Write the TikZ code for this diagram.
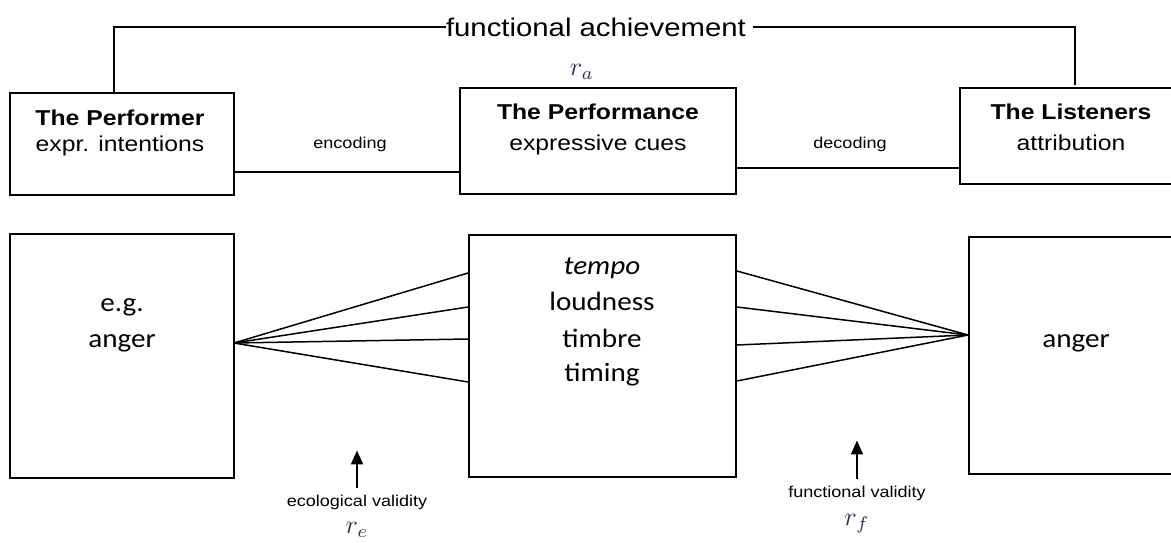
\documentclass[tikz,border=0pt]{standalone}
\usepackage{fontspec}
\usepackage{graphicx}
\usetikzlibrary{positioning,arrows.meta}
\newfontfamily\labelfont{Liberation Sans}[FakeStretch=1.15]
\newfontfamily\cuefont{Carlito}[FakeStretch=1.1]
\definecolor{coefnavy}{HTML}{26334F}

\tikzset{
  box/.style={draw, line width=1.8pt, inner sep=0pt},
  link/.style={line width=1.5pt},
  head/.style={font=\labelfont\fontsize{21.5}{24}\selectfont, inner sep=0pt, anchor=base},
  tag/.style={font=\labelfont\fontsize{15.7}{17}\selectfont, inner sep=0pt},
  cue/.style={font=\cuefont\fontsize{26.5}{30}\selectfont, inner sep=0pt, anchor=base},
  coef/.style={text=coefnavy, inner sep=0pt},
  validity/.style={line width=1.8pt, -{Triangle[length=14pt, width=12pt]}}
}
\newcommand{\coefsym}[1]{\scalebox{2.6}{$r_{#1}$}}

\begin{document}
\begin{tikzpicture}[x=1pt, y=-1pt]
	\useasboundingbox (0,0) rectangle (1171,543);

	\node[box, minimum width=224pt, minimum height=102pt] (performer) at (122,144) {};
	\node[box, minimum width=276pt, minimum height=106pt] (performance) at (598,141) {};
	\node[box, minimum width=222pt, minimum height=96pt] (listeners) at (1071,136) {};

	\node[head] (performer-h) at (120,125) {\bfseries The Performer};
	\node[head] (performer-s) at (120,151) {expr. intentions};
	\node[head] (performance-h) at (598,120) {\bfseries The Performance};
	\node[head] (performance-s) at (598,150) {expressive cues};
	\node[head] (listeners-h) at (1071,120) {\bfseries The Listeners};
	\node[head] (listeners-s) at (1071,150) {attribution};

	\node[font=\labelfont\fontsize{25.5}{28}\selectfont, inner sep=0pt] (achieve) at (596,27) {functional achievement};
	\node[coef] (ra) at (582,72) {\coefsym{a}};

	\draw[link] ([xshift=-8pt]performer.north) |- (achieve.west);
	\draw[link] ([xshift=7pt]achieve.east) -| ([xshift=4pt, yshift=2pt]listeners.north);

	\node[tag] (enc) at (350,144) {encoding};
	\node[tag] (dec) at (850,144) {decoding};
	\draw[link] (performer.east |- 0,172) -- (performance.west |- 0,172);
	\draw[link] (performance.east |- 0,168) -- (listeners.west |- 0,168);

	\node[box, minimum width=224pt, minimum height=244pt] (emotion) at (122,356) {};
	\node[box, minimum width=267pt, minimum height=242pt] (cues) at (602.5,356) {};
	\node[box, minimum width=214pt, minimum height=237pt] (heard) at (1076,355.5) {};

	\node[cue] (eg) at (122,311) {e.g.};
	\node[cue] (anger-l) at (122,347) {anger};
	\node[cue] (anger-r) at (1076,347) {anger};
	\foreach \w/\yb [count=\i] in {\textit{tempo}/274, loudness/310, timbre/347, timing/381}
		\node[cue] (cue\i) at (602,\yb) {\w};

	\coordinate (sender) at (234,343);
	\coordinate (receiver) at (968,335);
	\foreach \ya in {273,307,339,382}
		\draw[link] (sender) -- (cues.west |- 0,\ya);
	\foreach \yb in {271,307,345,381}
		\draw[link] (cues.east |- 0,\yb) -- (receiver);

	\node[tag] (eco) at (357,502) {ecological validity};
	\node[coef] (re) at (357,530) {\coefsym{e}};
	\node[tag] (fun) at (857,493) {functional validity};
	\node[coef] (rf) at (857,524) {\coefsym{f}};
	\draw[validity] ([yshift=6pt]eco.north) -- ++(0,-38);
	\draw[validity] ([yshift=6pt]fun.north) -- ++(0,-39);
\end{tikzpicture}
\end{document}
